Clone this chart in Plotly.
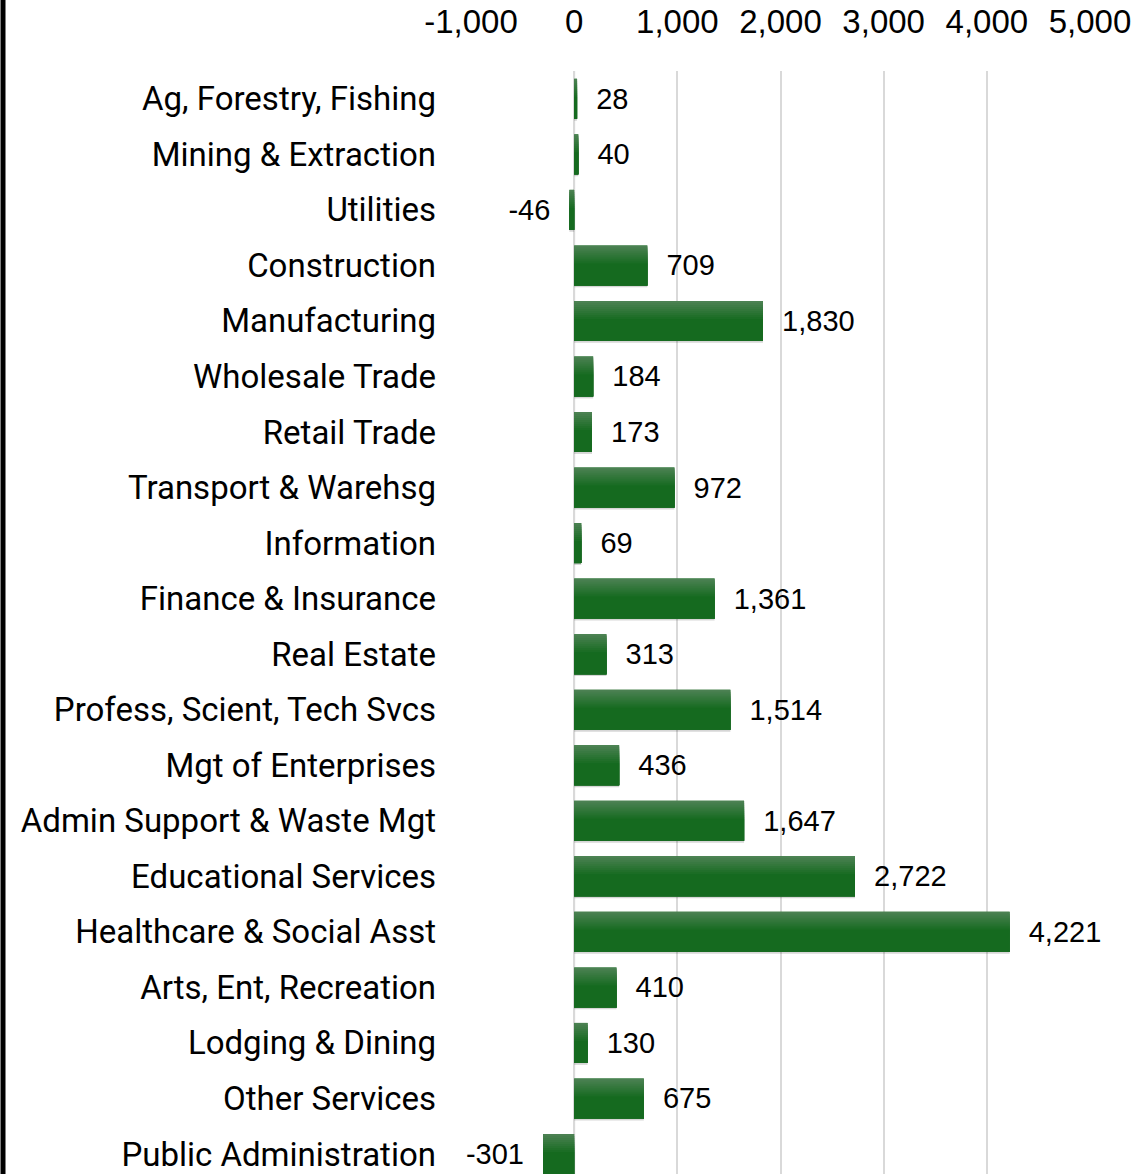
import plotly.graph_objects as go

categories = ["Ag, Forestry, Fishing", "Mining & Extraction", "Utilities", "Construction",
              "Manufacturing", "Wholesale Trade", "Retail Trade", "Transport & Warehsg",
              "Information", "Finance & Insurance", "Real Estate", "Profess, Scient, Tech Svcs",
              "Mgt of Enterprises", "Admin Support & Waste Mgt", "Educational Services",
              "Healthcare & Social Asst", "Arts, Ent, Recreation", "Lodging & Dining",
              "Other Services", "Public Administration"]
values = [28, 40, -46, 709, 1830, 184, 173, 972, 69, 1361, 313, 1514, 436, 1647, 2722,
          4221, 410, 130, 675, -301]
tick_vals = [-1000, 0, 1000, 2000, 3000, 4000, 5000]
tick_text = ["-1,000", "0", "1,000", "2,000", "3,000", "4,000", "5,000"]

W, H = 1142, 1174
L, R, T = 471, W - 1090, 71
labels = [("  " + f"{v:,}") if v >= 0 else (f"{v:,}" + "  ") for v in values]

BW = 0.72
fig = go.Figure()

# soft shadow
fig.add_trace(go.Bar(x=values, y=categories, orientation="h", width=BW, offset=-BW / 2 + 0.035,
                     marker=dict(color="rgba(0,0,0,0.16)", line=dict(width=0)),
                     hoverinfo="skip", showlegend=False))

# base bar with labels
fig.add_trace(go.Bar(
    x=values, y=categories, orientation="h", width=BW, offset=-BW / 2,
    marker=dict(color="#156a1f", line=dict(width=0)),
    text=labels, textposition="outside", cliponaxis=False,
    textfont=dict(family="Liberation Sans, Arial, sans-serif", size=29, color="#000000"),
    showlegend=False,
))

# gradient (lighter at top): overlapping bands, each running to the bar's bottom
def mix(c1, c2, t):
    a = [int(c1[i:i + 2], 16) for i in (1, 3, 5)]
    b = [int(c2[i:i + 2], 16) for i in (1, 3, 5)]
    return "#" + "".join(f"{round(a[k] + (b[k] - a[k]) * t):02x}" for k in range(3))

NB = 10
top_c, mid_c = "#4b8152", "#156a1f"
step = BW * 0.5 / NB
for i in range(NB):
    t = i / (NB - 1)
    fig.add_trace(go.Bar(x=values, y=categories, orientation="h", width=BW - i * step,
                         offset=-BW / 2 + i * step,
                         marker=dict(color=mix(top_c, mid_c, t), line=dict(width=0)),
                         hoverinfo="skip", showlegend=False, textposition="none"))

fig.update_layout(
    width=W, height=H,
    barmode="overlay",
    margin=dict(l=L, r=R, t=T, b=0, pad=0, autoexpand=False),
    plot_bgcolor="white", paper_bgcolor="white",
    showlegend=False,
    font=dict(family="Roboto, Arial, sans-serif", size=30, color="#000000"),
    xaxis=dict(side="top", range=[-1000, 5000], tickvals=tick_vals, ticktext=tick_text,
               showgrid=True, gridcolor="#d9d9d9", gridwidth=2, zeroline=False,
               showline=False, ticks="", ticklabelstandoff=30, automargin=False,
               tickfont=dict(family="Liberation Sans, Arial, sans-serif", size=33)),
    yaxis=dict(range=[19.36, -0.5], type="category", categoryorder="array",
               categoryarray=categories, showgrid=False, zeroline=False,
               showline=False, ticks="", ticklabelstandoff=34, automargin=False,
               tickfont=dict(family="Roboto, Arial, sans-serif", size=33)),
)

# zero line (light vertical)
fig.add_shape(type="line", xref="x", yref="paper", x0=0, x1=0, y0=0, y1=1,
              line=dict(color="#d9d9d9", width=2), layer="below")

# left border of chart area
pw = W - L - R
fig.add_shape(type="line", xref="paper", yref="paper", x0=-(L - 3) / pw, x1=-(L - 3) / pw,
              y0=0, y1=1 + T / (H - T), line=dict(color="#000000", width=5))

fig.write_html("out.html", config={"displayModeBar": False},
               post_script="document.body.style.margin='0px';document.body.style.overflow='hidden';")
